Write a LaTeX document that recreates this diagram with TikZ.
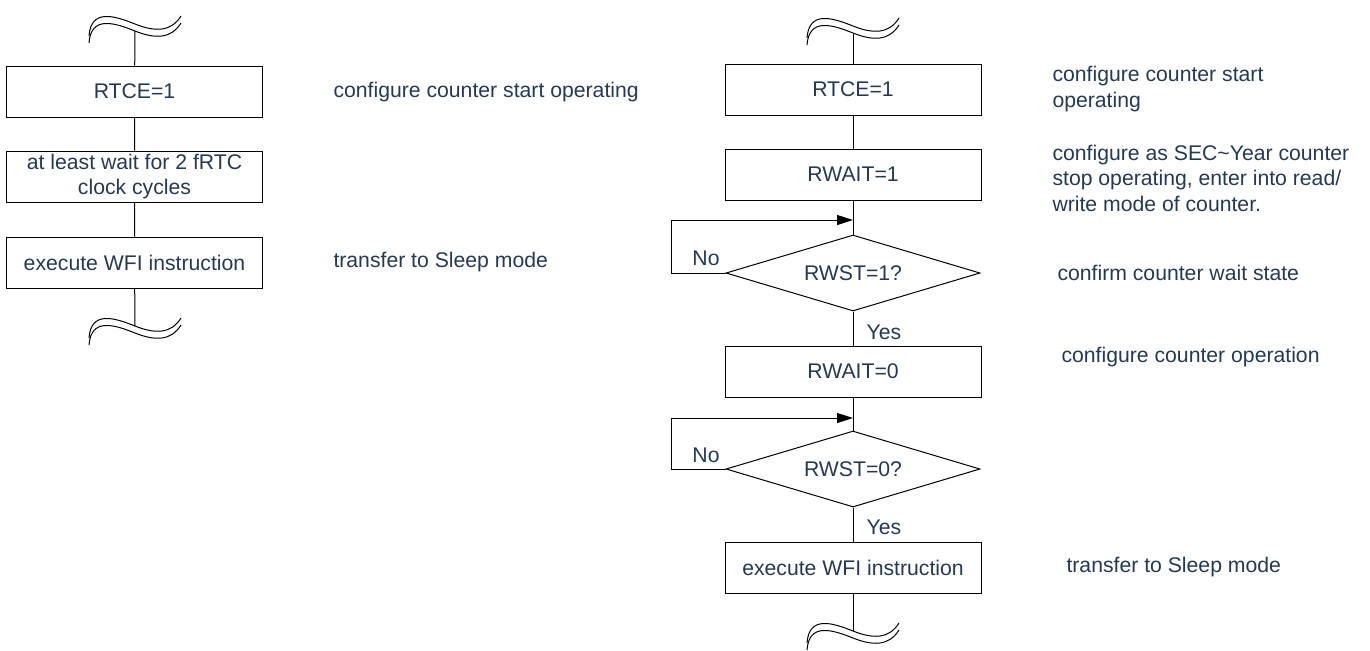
\documentclass[tikz,border=0pt]{standalone}
\usepackage{fontspec}
\setmainfont{Liberation Sans}
\usepackage{tikz}
\usetikzlibrary{arrows.meta,shapes.geometric}
\definecolor{textblue}{HTML}{243A52}

\begin{document}
\begin{tikzpicture}[x=0.5pt,y=-0.5pt,line width=0.5pt,
  every node/.style={text=textblue,font=\fontsize{10.6}{12.75}\selectfont},
  box/.style={draw,minimum width=128pt,minimum height=25.5pt,inner sep=1pt,align=center},
  cond/.style={draw,diamond,aspect=3.3,minimum width=127pt,minimum height=38pt,inner sep=0pt},
  note/.style={anchor=west,align=left,inner sep=0pt},
  brk/.pic={
    \draw (-46,8) .. controls (-44,-20) and (-20,-12) .. (0,-4) .. controls (20,4) and (36,4) .. (46,-12);
    \draw (-46,15) .. controls (-44,-13) and (-20,-5) .. (0,3) .. controls (20,11) and (36,11) .. (46,-5);
  }]
  \useasboundingbox (0,0) rectangle (1370,650);

  % left flow
  \pic at (135,28) {brk};
  \coordinate (lt) at (135,31);
  \node[box] (l1) at (134.5,91.5) {RTCE=1};
  \node[box] (l2) at (134.5,176.5) {at least wait for 2 fRTC\\clock cycles};
  \node[box] (l3) at (134.5,262.5) {execute WFI instruction};
  \pic at (135,330) {brk};
  \coordinate (lb) at (135,326);
  \draw (lt) -- (l1) (l1) -- (l2) (l2) -- (l3) (l3) -- (lb);

  \node[note] (n1) at (333,92) {configure counter start operating};
  \node[note] (n2) at (333,262) {transfer to Sleep mode};

  % right flow
  \pic at (853,30) {brk};
  \coordinate (rt) at (853,33);
  \node[box] (r1) at (853,89.5) {RTCE=1};
  \node[box] (r2) at (853,174.5) {RWAIT=1};
  \coordinate (j1) at (853,220);
  \node[cond] (d1) at (853,273) {RWST=1?};
  \node[box] (r3) at (853,371.5) {RWAIT=0};
  \coordinate (j2) at (853,418);
  \node[cond] (d2) at (853,469) {RWST=0?};
  \node[box] (r4) at (853,567.5) {execute WFI instruction};
  \pic at (853,635) {brk};
  \coordinate (rb) at (853,631);
  \draw (rt) -- (r1) (r1) -- (r2) (r2) -- (d1) (d1) -- (r3) (r3) -- (d2) (d2) -- (r4) (r4) -- (rb);
  \draw[-{Triangle[length=8pt,width=5pt]}] (d1.west) -- ++(-54,0) |- (j1);
  \draw[-{Triangle[length=8pt,width=5pt]}] (d2.west) -- ++(-54,0) |- (j2);

  \node (no1) at (706,258) {No};
  \node (yes1) at (884,332) {Yes};
  \node (no2) at (706,455) {No};
  \node (yes2) at (884,527) {Yes};

  \node[note] (n3) at (1052,89) {configure counter start\\operating};
  \node[note] (n4) at (1052,178) {configure as SEC\textasciitilde Year counter\\stop operating, enter into read/\\write mode of counter.};
  \node[note] (n5) at (1057,273) {confirm counter wait state};
  \node[note] (n6) at (1061,357) {configure counter operation};
  \node[note] (n7) at (1066,567) {transfer to Sleep mode};
\end{tikzpicture}
\end{document}
